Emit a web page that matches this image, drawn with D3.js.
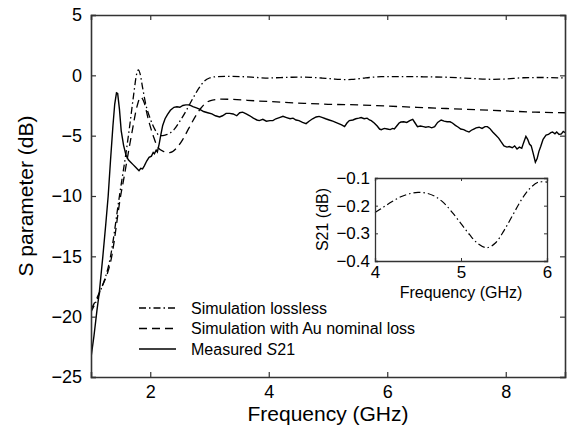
<!DOCTYPE html>
<html>
<head>
<meta charset="utf-8">
<script src="https://cdn.jsdelivr.net/npm/d3@7"></script>
<style>
  body { margin: 0; background: #fff; }
  svg { font-family: Arial, "Liberation Sans", sans-serif; }
</style>
</head>
<body>
<script>
// data
var xTicks = [2, 4, 6, 8];
var yTicks = [-25, -20, -15, -10, -5, 0, 5];
var insetXTicks = [4, 5, 6];
var insetYTicks = [-0.4, -0.3, -0.2, -0.1];
var legendLabels = ["Simulation lossless", "Simulation with Au nominal loss", "Measured S21"];

var losslessFreq = [1.0, 1.14, 1.33, 1.48, 1.52, 1.58, 1.65, 1.72, 1.77, 1.80, 1.83, 1.87, 1.92, 2.0, 2.08, 2.16, 2.25, 2.33, 2.4, 2.5, 2.61, 2.72, 2.83, 2.92, 3.0, 3.1, 3.3, 3.6, 3.8,
    4.0, 4.1, 4.2, 4.3, 4.4, 4.5, 4.6, 4.7, 4.8, 4.9, 5.0, 5.1, 5.2, 5.3, 5.4, 5.5, 5.6, 5.7, 5.8, 5.9, 6.0,
    6.3, 6.6, 7.0, 7.4, 7.77, 8.0, 8.3, 8.6, 9.0];
var losslessS21 = [-19.6, -18.1, -15, -10, -8.7, -6.8, -4.3, -1.6, 0.1, 0.45, 0.1, -1.0, -2.3, -3.6, -4.5, -5.0, -4.95, -4.8, -4.5, -3.8, -2.9, -1.9, -1.0, -0.45, -0.22, -0.12, -0.08, -0.12, -0.18,
    -0.225, -0.205, -0.185, -0.168, -0.157, -0.152, -0.155, -0.167, -0.19, -0.225, -0.265, -0.305, -0.338, -0.352, -0.335, -0.29, -0.235, -0.18, -0.138, -0.115, -0.115,
    -0.1, -0.12, -0.16, -0.25, -0.33, -0.3, -0.2, -0.18, -0.22];

var auFreq = [1.0, 1.15, 1.35, 1.5, 1.56, 1.63, 1.70, 1.77, 1.84, 1.90, 1.97, 2.05, 2.12, 2.22, 2.33, 2.45, 2.55, 2.65, 2.75, 2.85, 2.95, 3.05, 3.2, 3.4, 3.8, 4.2, 4.6, 5.0, 5.5, 6.0, 6.5, 7.0, 7.5, 8.0, 8.5, 9.0];
var auS21 = [-19.4, -17.9, -15, -10, -8.4, -6.4, -4.5, -2.7, -1.8, -2.3, -3.7, -5.0, -5.9, -6.3, -6.4, -6.0, -5.3, -4.4, -3.5, -2.75, -2.25, -2.05, -1.97, -2.0, -2.12, -2.22, -2.32, -2.4, -2.45, -2.55, -2.65, -2.75, -2.85, -2.95, -3.05, -3.1];

var measFreq = [1.00, 1.05, 1.10, 1.14, 1.20, 1.25, 1.29, 1.33, 1.37, 1.40, 1.43, 1.45, 1.48, 1.51, 1.55, 1.59, 1.63, 1.67, 1.71, 1.75, 1.79, 1.81, 1.84, 1.87, 1.90, 1.94, 1.98,
    2.02, 2.05, 2.07, 2.10, 2.12, 2.15, 2.18, 2.21, 2.25, 2.29, 2.34, 2.40, 2.45, 2.50, 2.55, 2.60, 2.66, 2.72, 2.78, 2.83, 2.90, 2.97,
    3.04, 3.10, 3.17, 3.22, 3.28, 3.34, 3.40, 3.46, 3.51, 3.56, 3.62, 3.68, 3.74, 3.80, 3.84, 3.90, 3.96,
    4.02, 4.07, 4.12, 4.18, 4.24, 4.30, 4.36, 4.41, 4.46, 4.51, 4.57, 4.63, 4.68, 4.74, 4.80, 4.85, 4.91, 4.96,
    5.02, 5.08, 5.13, 5.18, 5.23, 5.28, 5.32, 5.36, 5.42, 5.47, 5.52, 5.56, 5.61, 5.66, 5.70, 5.73, 5.78, 5.83, 5.87, 5.90, 5.95,
    6.00, 6.05, 6.09, 6.12, 6.16, 6.20, 6.23, 6.28, 6.33, 6.38, 6.43, 6.47, 6.51, 6.56, 6.61, 6.65, 6.70, 6.75, 6.80, 6.85, 6.91, 6.96,
    7.01, 7.06, 7.10, 7.15, 7.20, 7.24, 7.29, 7.33, 7.38, 7.42, 7.46, 7.50, 7.55, 7.60, 7.65, 7.69, 7.73, 7.78, 7.83, 7.88, 7.92, 7.97,
    8.02, 8.06, 8.11, 8.15, 8.19, 8.23, 8.27, 8.30, 8.34, 8.37, 8.40, 8.43, 8.46, 8.50, 8.53, 8.56, 8.59, 8.63, 8.68, 8.72, 8.76, 8.79, 8.83, 8.86, 8.90, 8.94, 8.97, 9.00];
var measS21 = [-23.4, -21.6, -19.5, -18.0, -15.0, -12.3, -10.0, -7.0, -4.2, -2.4, -1.45, -1.5, -2.8, -4.6, -5.8, -6.6, -7.0, -7.2, -7.4, -7.6, -7.8, -7.9, -7.7, -7.75, -7.5, -7.1, -6.8,
    -6.7, -6.4, -6.5, -6.2, -6.35, -5.7, -4.9, -4.15, -3.6, -3.25, -2.9, -2.65, -2.6, -2.65, -2.5, -2.45, -2.45, -2.6, -2.7, -2.8, -3.0, -3.1,
    -3.2, -3.35, -3.45, -3.35, -3.15, -3.15, -3.2, -3.35, -3.1, -3.05, -3.2, -3.35, -3.55, -3.7, -3.75, -3.65, -3.8,
    -3.75, -3.75, -3.6, -3.5, -3.4, -3.5, -3.6, -3.55, -3.7, -3.75, -3.9, -4.0, -3.8, -3.6, -3.45, -3.4, -3.5, -3.6,
    -3.7, -3.8, -3.9, -4.0, -4.1, -4.25, -3.95, -3.75, -3.7, -3.6, -3.55, -3.5, -3.6, -3.55, -3.7, -3.75, -3.95, -4.2, -4.45, -4.5, -4.4,
    -4.45, -4.5, -4.4, -4.45, -4.2, -3.95, -3.87, -3.85, -3.9, -3.75, -3.65, -3.95, -4.25, -4.2, -4.25, -4.3, -4.25, -4.35, -4.25, -3.9, -3.7, -3.8,
    -3.85, -3.85, -3.95, -4.15, -4.3, -4.45, -4.5, -4.6, -4.7, -4.55, -4.45, -4.35, -4.3, -4.4, -4.25, -4.25, -4.4, -4.7, -4.95, -5.2, -5.5, -5.85,
    -5.95, -5.9, -6.0, -5.85, -6.1, -5.95, -6.05, -5.6, -5.05, -5.3, -5.7, -5.85, -6.4, -7.2, -6.9, -6.3, -5.9, -5.3, -4.95, -4.9, -4.75, -4.7, -4.85, -4.7, -4.9, -4.85, -4.65, -4.75];

var width = 567, height = 432;
var pLeft = 91, pRight = 565, pTop = 15, pBottom = 377;

var svg = d3.select('body')
        .append('svg')
        .attr('width', width)
        .attr('height', height);

var x = d3.scaleLinear().domain([1, 9]).range([pLeft, pRight]);
var y = d3.scaleLinear().domain([-25, 5]).range([pBottom, pTop]);

function pairs(fs, vs) {
    return fs.map(function(f, i) { return [f, vs[i]]; });
}

var dashDot = "7,3,1.5,3";
var dashed = "8,5";

// clip curves to the plot box
svg.append('clipPath').attr('id', 'clipMain')
    .append('rect').attr('x', pLeft).attr('y', pTop).attr('width', pRight - pLeft).attr('height', pBottom - pTop);

var line = d3.line()
        .x(function(d) { return x(d[0]); })
        .y(function(d) { return y(d[1]); });
var smooth = d3.line()
        .curve(d3.curveMonotoneX)
        .x(function(d) { return x(d[0]); })
        .y(function(d) { return y(d[1]); });

var curves = svg.append('g').attr('clip-path', 'url(#clipMain)');
curves.append('path')
    .attr('d', smooth(pairs(losslessFreq, losslessS21)))
    .attr('fill', 'none').attr('stroke', '#000').attr('stroke-width', 1.3)
    .attr('stroke-dasharray', dashDot);
curves.append('path')
    .attr('d', smooth(pairs(auFreq, auS21)))
    .attr('fill', 'none').attr('stroke', '#000').attr('stroke-width', 1.3)
    .attr('stroke-dasharray', dashed);
curves.append('path')
    .attr('d', line(pairs(measFreq, measS21)))
    .attr('fill', 'none').attr('stroke', '#000').attr('stroke-width', 1.4);

// axes, ticks pointing inward on all sides
var axisColor = '#333';
svg.append('g').attr('transform', 'translate(0,' + pBottom + ')')
    .call(d3.axisBottom(x).tickValues(xTicks).tickSize(-5).tickPadding(8).tickFormat(d3.format('d')));
svg.append('g').attr('transform', 'translate(0,' + pTop + ')')
    .call(d3.axisTop(x).tickValues(xTicks).tickSize(-5).tickFormat(''));
svg.append('g').attr('transform', 'translate(' + pLeft + ',0)')
    .call(d3.axisLeft(y).tickValues(yTicks).tickSize(-5).tickPadding(9).tickFormat(function(d) { return d < 0 ? '\u2212' + Math.abs(d) : d; }));
svg.append('g').attr('transform', 'translate(' + pRight + ',0)')
    .call(d3.axisRight(y).tickValues(yTicks).tickSize(-5).tickFormat(''));

svg.selectAll('.domain').attr('stroke', axisColor).attr('stroke-width', 1.6);
svg.selectAll('.tick line').attr('stroke', axisColor).attr('stroke-width', 1.2);
svg.selectAll('.tick text').attr('fill', '#000').style('font-size', '18px').style('font-family', 'Arial, "Liberation Sans", sans-serif');

svg.append('text')
    .attr('x', (pLeft + pRight) / 2).attr('y', 421)
    .attr('text-anchor', 'middle')
    .style('font-size', '21px')
    .text('Frequency (GHz)');
svg.append('text')
    .attr('transform', 'translate(33,' + (pTop + pBottom) / 2 + ') rotate(-90)')
    .attr('text-anchor', 'middle')
    .style('font-size', '21px')
    .text('S parameter (dB)');

// legend
var legendY = [308, 328.5, 349];
var legendDash = [dashDot, dashed, null];
var legend = svg.selectAll('.leg')
        .data(legendLabels)
        .enter()
        .append('g')
        .attr('class', 'leg')
        .attr('transform', function(d, i) { return 'translate(139,' + legendY[i] + ')'; });
legend.append('line')
    .attr('x1', 0).attr('x2', 37).attr('y1', 0).attr('y2', 0)
    .attr('stroke', '#000').attr('stroke-width', 1.3)
    .attr('stroke-dasharray', function(d, i) { return legendDash[i]; });
legend.append('text')
    .attr('x', 52).attr('y', 5.5)
    .style('font-size', '16px')
    .each(function(d, i) {
        var t = d3.select(this);
        if (i == 2) {
            t.append('tspan').text('Measured ');
            t.append('tspan').style('font-style', 'italic').text('S');
            t.append('tspan').text('21');
        } else {
            t.text(d);
        }
    });

// inset: lossless curve between 4 and 6 GHz
var iLeft = 375, iRight = 547, iTop = 178, iBottom = 261;
var ix = d3.scaleLinear().domain([4, 6]).range([iLeft, iRight]);
var iy = d3.scaleLinear().domain([-0.4, -0.1]).range([iBottom, iTop]);

var inset = svg.append('g');
inset.append('rect')
    .attr('x', iLeft).attr('y', iTop).attr('width', iRight - iLeft).attr('height', iBottom - iTop)
    .attr('fill', '#fff');

var insetData = pairs(losslessFreq, losslessS21).filter(function(d) { return d[0] >= 4 && d[0] <= 6; });
inset.append('path')
    .attr('d', d3.line().curve(d3.curveCatmullRom)
        .x(function(d) { return ix(d[0]); })
        .y(function(d) { return iy(d[1]); })(insetData))
    .attr('fill', 'none').attr('stroke', '#000').attr('stroke-width', 1.2)
    .attr('stroke-dasharray', dashDot);

var ig = inset.append('g').attr('class', 'insetAxes');
ig.append('g').attr('transform', 'translate(0,' + iBottom + ')')
    .call(d3.axisBottom(ix).tickValues(insetXTicks).tickSize(-3).tickPadding(5).tickFormat(d3.format('d')));
ig.append('g').attr('transform', 'translate(0,' + iTop + ')')
    .call(d3.axisTop(ix).tickValues(insetXTicks).tickSize(-3).tickFormat(''));
ig.append('g').attr('transform', 'translate(' + iLeft + ',0)')
    .call(d3.axisLeft(iy).tickValues(insetYTicks).tickSize(-3).tickPadding(5).tickFormat(function(d) { return '\u2212' + Math.abs(d).toFixed(1); }));
ig.append('g').attr('transform', 'translate(' + iRight + ',0)')
    .call(d3.axisRight(iy).tickValues(insetYTicks).tickSize(-3).tickFormat(''));

ig.selectAll('.domain').attr('stroke', axisColor).attr('stroke-width', 1.3);
ig.selectAll('.tick line').attr('stroke', axisColor).attr('stroke-width', 1);
ig.selectAll('.tick text').attr('fill', '#000').style('font-size', '17px').style('font-family', 'Arial, "Liberation Sans", sans-serif');

inset.append('text')
    .attr('x', (iLeft + iRight) / 2).attr('y', 298)
    .attr('text-anchor', 'middle')
    .style('font-size', '16px')
    .text('Frequency (GHz)');
inset.append('text')
    .attr('transform', 'translate(328,' + (iTop + iBottom) / 2 + ') rotate(-90)')
    .attr('text-anchor', 'middle')
    .style('font-size', '16px')
    .text('S21 (dB)');
</script>
</body>
</html>
